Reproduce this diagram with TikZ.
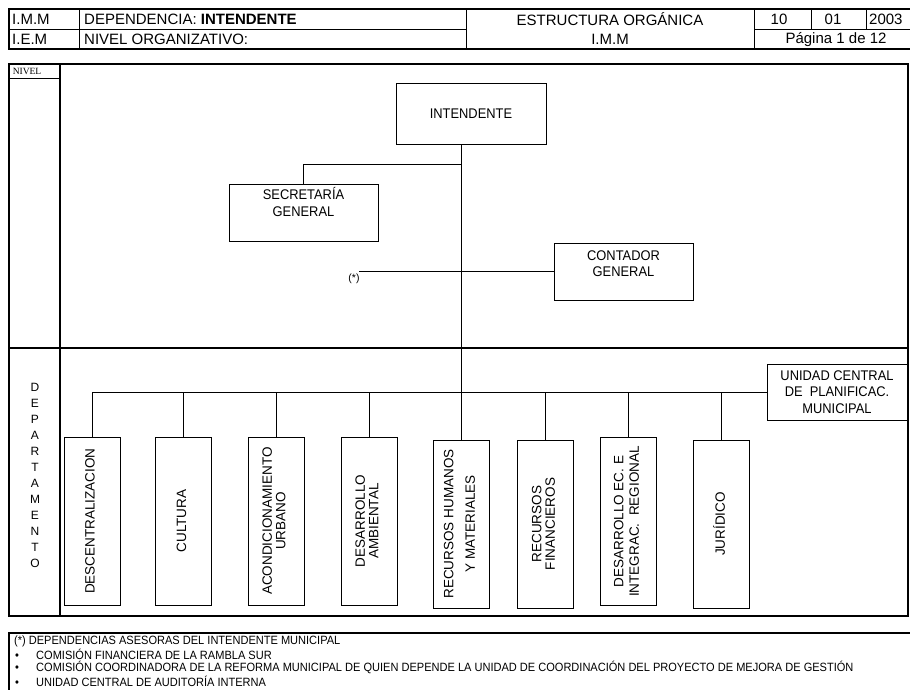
\documentclass[tikz,border=0pt]{standalone}
\usepackage{fontspec}
\usepackage{graphicx}
\setmainfont{Liberation Sans}
\newfontfamily\narrowfont[FakeStretch=0.92]{Liberation Sans}
\newfontfamily\timesfont{Liberation Serif}
\usetikzlibrary{positioning, calc}
\tikzstyle{frame} = [line width=1.3pt]
\tikzstyle{line} = [line width=0.9pt]
\tikzstyle{unit} = [rectangle, draw=black, line width=1pt, text centered, align=center, font=\narrowfont\fontsize{14}{16.5}\selectfont]
\tikzstyle{unitlabel} = [align=center, inner sep=0pt, font=\narrowfont\fontsize{14}{16.5}\selectfont]
\tikzstyle{dept} = [rectangle, draw=black, line width=1pt, minimum width=56, minimum height=168, inner sep=0pt, font=\fontsize{13.5}{13.5}\selectfont]
\tikzstyle{headtext} = [inner sep=0pt, font=\fontsize{15}{16}\selectfont]
\tikzstyle{foottext} = [inner sep=0pt, anchor=west, font=\narrowfont\fontsize{12}{13}\selectfont]
\newcommand{\vlabel}[1]{\rotatebox{90}{\begin{tabular}{@{}c@{}}#1\end{tabular}}}
\newcommand{\footitem}{\makebox[21pt][l]{\textbullet}}

\begin{document}
\begin{tikzpicture}[x=1pt, y=-1pt]
    \useasboundingbox (0,0) rectangle (910,689);

    % Header table
    \draw[frame] (9,9) rectangle (930,49);
    \draw[line] (9,29) -- (466,29);
    \draw[line] (754,29) -- (930,29);
    \draw[line] (79,9) -- (79,49);
    \draw[line] (466,9) -- (466,49);
    \draw[line] (754,9) -- (754,49);
    \draw[line] (811,9) -- (811,29);
    \draw[line] (866,9) -- (866,29);

    \node[headtext, anchor=west] (imm) at (12,19.5) {I.M.M};
    \node[headtext, anchor=west] (iem) at (12,39.5) {I.E.M};
    \node[headtext, anchor=west] (dependencia) at (84,19.5) {DEPENDENCIA: \textbf{INTENDENTE}};
    \node[headtext, anchor=west] (nivelorg) at (84,39.5) {NIVEL ORGANIZATIVO:};
    \node[headtext] (estructura) at (610,19.5) {ESTRUCTURA ORGÁNICA};
    \node[headtext] (immsub) at (610,39.5) {I.M.M};
    \node[headtext] (dia) at (779,19.5) {10};
    \node[headtext] (mes) at (833,19.5) {01};
    \node[headtext, anchor=west] (anio) at (869,19.5) {2003};
    \node[headtext] (pagina) at (836,39.5) {Página 1 de 12};

    % Main frame
    \draw[frame] (9,64) rectangle (908,616);
    \draw[frame] (60,64) -- (60,616);
    \draw[frame] (9,348) -- (908,348);
    \draw[line] (9,78) -- (60,78);
    \node[inner sep=0pt, font=\timesfont\fontsize{9.5}{10}\selectfont] (nivel) at (27,71) {NIVEL};
    \node[align=center, inner sep=0pt, font=\fontsize{12}{16}\selectfont] (departamento) at (35,475)
        {D\\E\\P\\A\\R\\T\\A\\M\\E\\N\\T\\O};

    % Upper level
    \node[unit, minimum width=150, minimum height=61] (intendente) at (471,113.5) {INTENDENTE};
    \node[unit, minimum width=149, minimum height=57] (secgen) at (303.5,212.5) {};
    \node[unitlabel, below=4pt of secgen.north] (secgen label) {SECRETARÍA\\GENERAL};
    \node[unit, minimum width=139, minimum height=57] (contador) at (623.5,271.5) {};
    \node[unitlabel, below=8pt of contador.north] (contador label) {CONTADOR\\GENERAL};
    \node[inner sep=0pt, font=\fontsize{10.5}{11}\selectfont] (asterisco) at (354,279) {(*)};
    \coordinate (secjoin) at (461.5,164);
    \coordinate (asesor) at (359,271);

    % Departments
    \node[unit, minimum width=140, minimum height=56] (unidad) at (837,392)
        {UNIDAD CENTRAL\\DE~ PLANIFICAC.\\MUNICIPAL};
    \node[dept] (desc) at (92,521) {\vlabel{DESCENTRALIZACION}};
    \node[dept] (cultura) at (183.5,521) {\vlabel{CULTURA}};
    \node[dept] (acond) at (276,521) {\vlabel{ACONDICIONAMIENTO\\URBANO}};
    \node[dept] (ambiental) at (369,521) {\vlabel{DESARROLLO\\AMBIENTAL}};
    \node[dept] (rrhh) at (461.5,524) {\vlabel{RECURSOS HUMANOS\\[8pt]Y MATERIALES}};
    \node[dept] (financieros) at (545.5,524) {\vlabel{RECURSOS\\FINANCIEROS}};
    \node[dept] (economico) at (628.5,521.5) {\vlabel{DESARROLLO EC. E\\[2pt]INTEGRAC.\ \ REGIONAL}};
    \node[dept] (juridico) at (721,524) {\vlabel{JURÍDICO}};

    % Connectors
    \draw[line] (rrhh.north |- intendente.south) -- (rrhh.north);
    \draw[line] (secjoin) -| (secgen.north);
    \draw[line] (asesor) -- (asesor -| contador.west);
    \draw[line] (desc.north |- unidad.west) -- (unidad.west);
    \draw[line] (desc.north |- unidad.west) -- (desc.north);
    \draw[line] (cultura.north |- unidad.west) -- (cultura.north);
    \draw[line] (acond.north |- unidad.west) -- (acond.north);
    \draw[line] (ambiental.north |- unidad.west) -- (ambiental.north);
    \draw[line] (financieros.north |- unidad.west) -- (financieros.north);
    \draw[line] (economico.north |- unidad.west) -- (economico.north);
    \draw[line] (juridico.north |- unidad.west) -- (juridico.north);

    % Notes
    \draw[frame] (9,700) -- (9,633) -- (930,633);
    \node[foottext] (asesoras) at (14,641) {(*) DEPENDENCIAS ASESORAS DEL INTENDENTE MUNICIPAL};
    \node[foottext] (rambla) at (15,654) {\footitem COMISIÓN FINANCIERA DE LA RAMBLA SUR};
    \node[foottext] (reforma) at (15,667.5) {\footitem COMISIÓN COORDINADORA DE LA REFORMA MUNICIPAL DE QUIEN DEPENDE LA UNIDAD DE COORDINACIÓN DEL PROYECTO DE MEJORA DE GESTIÓN};
    \node[foottext] (auditoria) at (15,681) {\footitem UNIDAD CENTRAL DE AUDITORÍA INTERNA};

\end{tikzpicture}
\end{document}
